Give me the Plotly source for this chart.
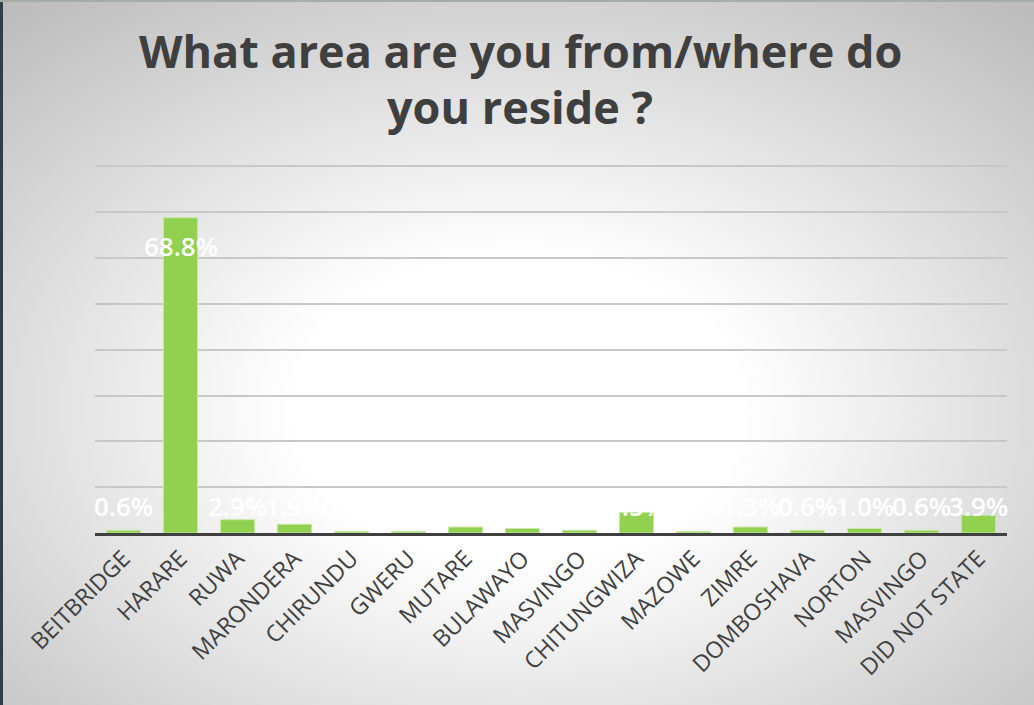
import base64
import plotly.graph_objects as go

# Survey responses: area of residence (% of respondents)
areas = [
    "BEITBRIDGE", "HARARE", "RUWA", "MARONDERA", "CHIRUNDU", "GWERU",
    "MUTARE", "BULAWAYO", "MASVINGO", "CHITUNGWIZA", "MAZOWE", "ZIMRE",
    "DOMBOSHAVA", "NORTON", "MASVINGO ", "DID NOT STATE",
]
tick_text = [a.strip() for a in areas]
shares = [0.6, 68.8, 2.9, 1.9, 0.3, 0.3, 1.3, 1.0, 0.6, 4.5, 0.3, 1.3, 0.6, 1.0, 0.6, 3.9]
y_ticks = [0, 10, 20, 30, 40, 50, 60, 70, 80]

title_lines = ["What area are you from/where do", "you reside ?"]

# plot-area geometry in pixels
W, H = 1034, 705
ML, MR, MT, MB = 95, 27, 165, 172
PW, PH = W - ML - MR, H - MT - MB


def py(px):
    """Convert a pixel row from the top of the page to paper y."""
    return 1 + (MT - px) / PH


# Soft radial backdrop as an inline SVG
svg = """<svg xmlns='http://www.w3.org/2000/svg' width='1034' height='705'>
<defs><radialGradient id='g' cx='0.5' cy='0.58' r='0.75'>
<stop offset='0' stop-color='#ffffff'/>
<stop offset='0.29' stop-color='#ffffff'/>
<stop offset='1' stop-color='#bcbcbc'/>
</radialGradient></defs>
<rect width='1034' height='705' fill='url(#g)'/>
</svg>"""
bg_uri = "data:image/svg+xml;base64," + base64.b64encode(svg.encode()).decode()

fig = go.Figure()
fig.add_trace(go.Bar(
    x=list(range(len(areas))),
    y=shares,
    marker=dict(color="#92d050", line=dict(color="#c8e8a8", width=1)),
    hoverinfo="skip",
))

# White percentage labels: inside the top of tall bars, a fixed height above the axis otherwise
for i, v in enumerate(shares):
    if v > 20:
        fig.add_annotation(x=i, y=v, yshift=-28, text=f"{v:.1f}%", showarrow=False,
                           font=dict(family="Open Sans", size=26, color="white", weight=600))
    else:
        fig.add_annotation(x=i, y=0, yshift=27, text=f"{v:.1f}%", showarrow=False,
                           font=dict(family="Open Sans", size=26, color="white", weight=600))

# Two-line heading
for line, ypx in zip(title_lines, [50, 106]):
    fig.add_annotation(xref="paper", yref="paper", x=(520 - ML) / PW, y=py(ypx),
                       xanchor="center", yanchor="middle", text=line, showarrow=False,
                       font=dict(family="Open Sans", size=45, color="#3f3f3f", weight=700))

fig.update_layout(
    width=W, height=H,
    margin=dict(l=ML, r=MR, t=MT, b=MB),
    paper_bgcolor="#d0d0d0",
    plot_bgcolor="rgba(0,0,0,0)",
    bargap=0.4,
    showlegend=False,
    images=[dict(source=bg_uri, xref="paper", yref="paper", x=-ML / PW, y=py(0),
                 sizex=W / PW, sizey=H / PH, xanchor="left", yanchor="top",
                 sizing="stretch", layer="below")],
    shapes=[
        dict(type="rect", xref="paper", yref="paper", x0=-ML / PW, x1=-(ML - 3) / PW,
             y0=py(H), y1=py(0), fillcolor="#2e3f48", line_width=0),
        dict(type="line", xref="paper", yref="paper", x0=-ML / PW, x1=1 + MR / PW,
             y0=py(1), y1=py(1), line=dict(color="#a4aea4", width=2)),
    ],
)
fig.update_xaxes(
    tickmode="array", tickvals=list(range(len(areas))), ticktext=tick_text,
    tickangle=-45, tickfont=dict(family="Open Sans", size=23, color="#404040"),
    showline=True, linecolor="#404040", linewidth=3, showgrid=False, ticks="",
    range=[-0.5, len(areas) - 0.5],
)
fig.update_yaxes(
    range=[0, 80.3], tickvals=y_ticks, showticklabels=False,
    showgrid=True, gridcolor="#c8c8c8", gridwidth=1.5, zeroline=False,
)

fig.write_html("out.html")
